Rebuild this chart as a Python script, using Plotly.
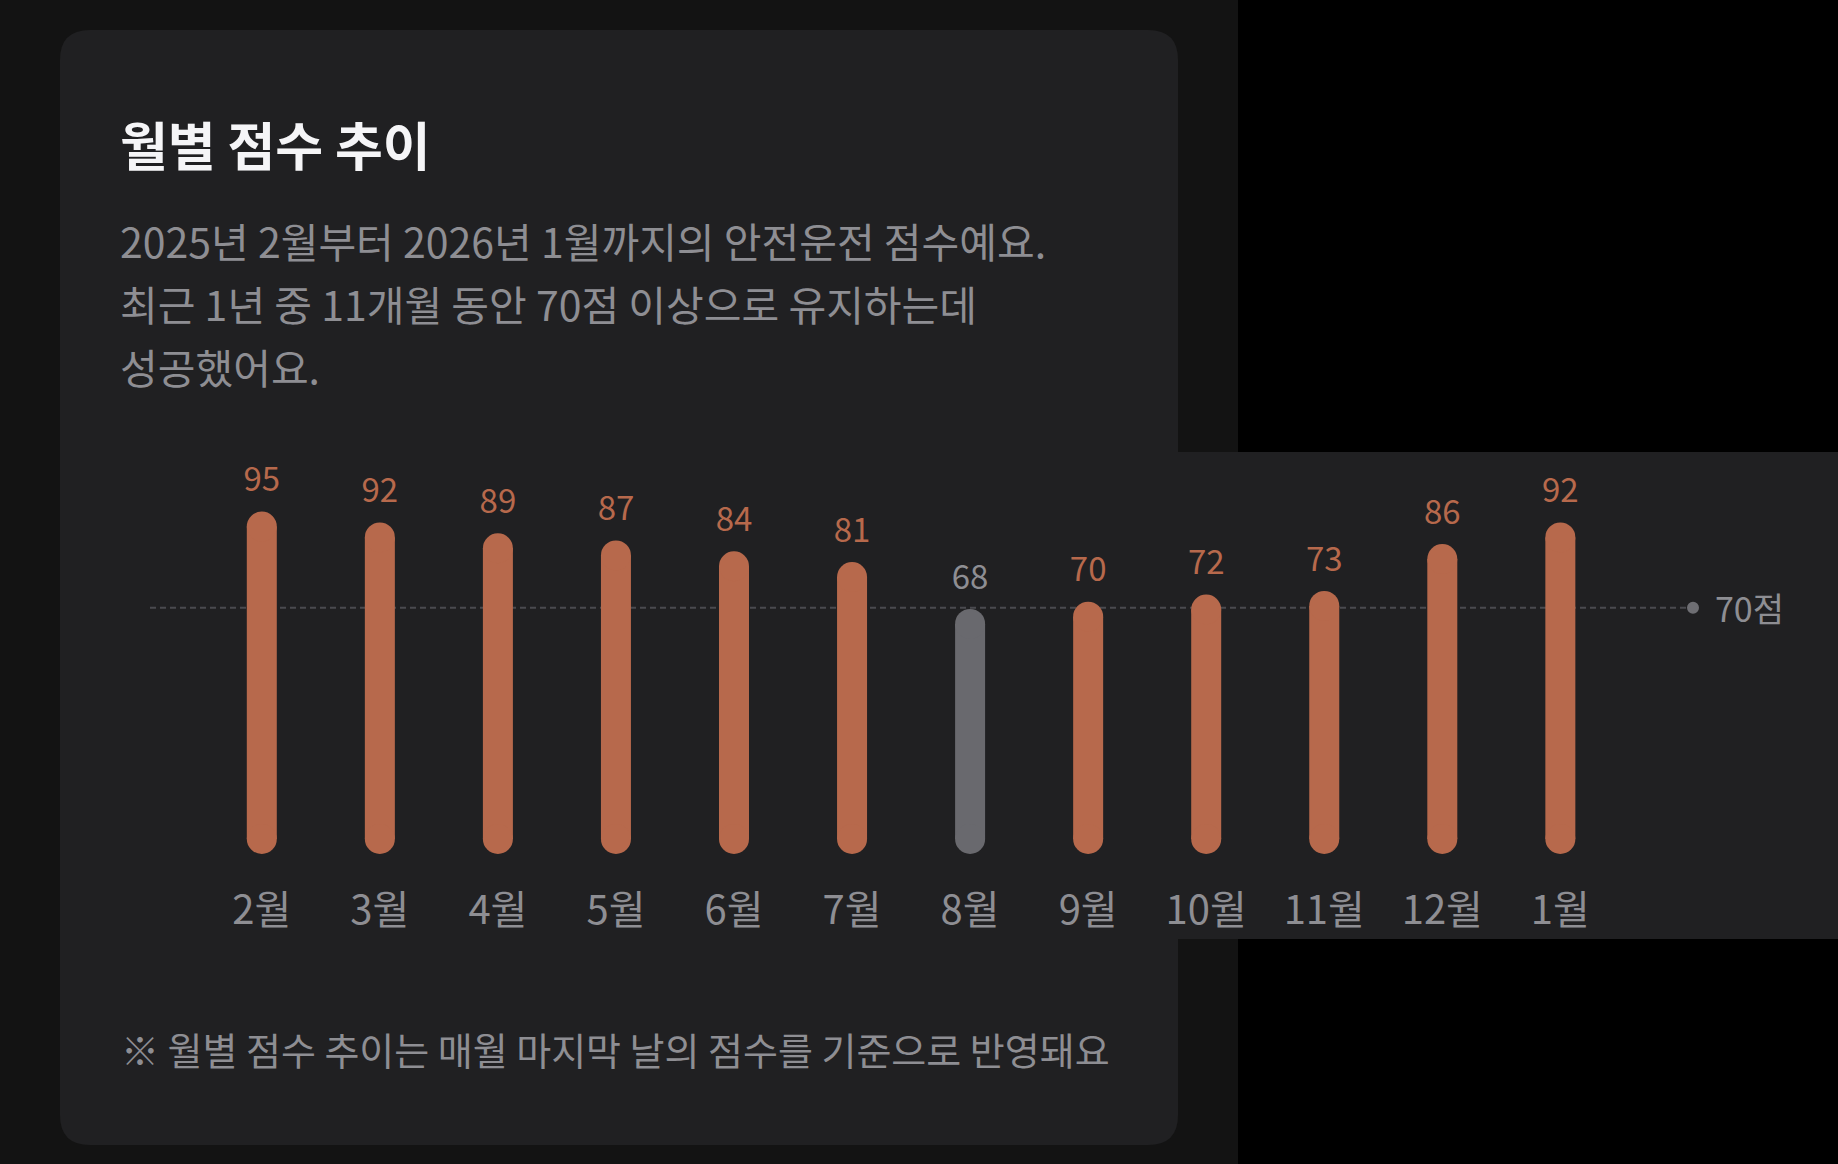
import plotly.graph_objects as go

# ---- data ----
months = ["2월", "3월", "4월", "5월", "6월", "7월", "8월", "9월", "10월", "11월", "12월", "1월"]
scores = [95, 92, 89, 87, 84, 81, 68, 70, 72, 73, 86, 92]
threshold = 70
title_text = "월별 점수 추이"
subtitle_lines = [
    "2025년 2월부터 2026년 1월까지의 안전운전 점수예요.",
    "최근 1년 중 11개월 동안 70점 이상으로 유지하는데",
    "성공했어요.",
]
footer_text = "※ 월별 점수 추이는 매월 마지막 날의 점수를 기준으로 반영돼요"
threshold_label = "70점"

# ---- styling ----
W, H = 1838, 1164
FONT = "Noto Sans CJK KR"
ORANGE = "#b7694c"
GRAY_BAR = "#69696e"
GRAY_TEXT = "#8e8e93"
CARD = "#202022"
OUTER = "#131313"

def fx(px):
    return px / W

def fy(py):
    return 1 - py / H

PX_PER_UNIT = 3.604
ZERO_PX = 854.0
AXIS_PX = 883.0
y_top = ZERO_PX / PX_PER_UNIT
y_bot = (ZERO_PX - AXIS_PX) / PX_PER_UNIT

X0_PX, STEP_PX = 261.8, 118.05
x_lo = -X0_PX / STEP_PX
x_hi = (W - X0_PX) / STEP_PX

BAR_PX = 30
CAP = (BAR_PX / 2) / PX_PER_UNIT
LABEL_GAP = 28.5 / PX_PER_UNIT
GUIDE_SHIFT = -6  # px offset of the guide line below the threshold value

fig = go.Figure()


def pill_trace(mask, color):
    xs, ys = [], []
    for m, s, keep in zip(months, scores, mask):
        if keep:
            xs += [m, m, None]
            ys += [CAP, s - CAP, None]
    return go.Scatter(
        x=xs, y=ys, mode="lines+markers", connectgaps=False,
        line=dict(color=color, width=BAR_PX),
        marker=dict(color=color, size=BAR_PX, line=dict(width=0)),
        hoverinfo="skip", showlegend=False,
    )


fig.add_trace(pill_trace([s >= threshold for s in scores], ORANGE))
fig.add_trace(pill_trace([s < threshold for s in scores], GRAY_BAR))

label_colors = [ORANGE if s >= threshold else GRAY_TEXT for s in scores]
fig.add_trace(go.Scatter(
    x=months, y=[s + LABEL_GAP for s in scores], mode="text",
    text=[str(s) for s in scores], textposition="middle center",
    textfont=dict(family=FONT, size=33, color=label_colors),
    hoverinfo="skip", showlegend=False,
))

shapes = [
    dict(type="rect", xref="paper", yref="paper", x0=0, x1=fx(1238), y0=0, y1=1,
         fillcolor=OUTER, line=dict(width=0), layer="below"),
]
r = 30
L, R, T, B = 60, 1178, 30, 1145
path = (
    f"M {fx(L + r)} {fy(T)} L {fx(R - r)} {fy(T)} Q {fx(R)} {fy(T)} {fx(R)} {fy(T + r)} "
    f"L {fx(R)} {fy(B - r)} Q {fx(R)} {fy(B)} {fx(R - r)} {fy(B)} "
    f"L {fx(L + r)} {fy(B)} Q {fx(L)} {fy(B)} {fx(L)} {fy(B - r)} "
    f"L {fx(L)} {fy(T + r)} Q {fx(L)} {fy(T)} {fx(L + r)} {fy(T)} Z"
)
shapes.append(dict(type="path", xref="paper", yref="paper", path=path,
                   fillcolor=CARD, line=dict(width=0), layer="below"))
shapes.append(dict(type="rect", xref="paper", yref="paper", x0=fx(1178), x1=1,
                   y0=fy(939), y1=fy(452), fillcolor=CARD, line=dict(width=0), layer="below"))
shapes.append(dict(type="line", xref="paper", yref="y", ysizemode="pixel", yanchor=threshold,
                   x0=fx(150), x1=fx(1688), y0=GUIDE_SHIFT, y1=GUIDE_SHIFT,
                   line=dict(color="#4a4a4f", width=2, dash="6px,4px"), layer="below"))
shapes.append(dict(type="circle", xref="paper", yref="y", xsizemode="pixel", ysizemode="pixel",
                   xanchor=fx(1693), yanchor=threshold, x0=-6, x1=6,
                   y0=GUIDE_SHIFT - 6, y1=GUIDE_SHIFT + 6,
                   fillcolor="#6e6e73", line=dict(width=0), layer="above"))

annotations = [
    dict(text=title_text, xref="paper", yref="paper", x=fx(118), y=fy(143),
         xanchor="left", yanchor="middle", showarrow=False,
         font=dict(family=FONT, size=52, color="#f5f5f7", weight="bold")),
    dict(text=threshold_label, xref="paper", yref="y", x=fx(1713), y=threshold,
         yshift=GUIDE_SHIFT, xanchor="left", yanchor="middle", showarrow=False,
         font=dict(family=FONT, size=34, color=GRAY_TEXT)),
    dict(text=footer_text, xref="paper", yref="paper", x=fx(119), y=fy(1048),
         xanchor="left", yanchor="middle", showarrow=False,
         font=dict(family=FONT, size=38, color=GRAY_TEXT)),
]
for i, line in enumerate(subtitle_lines):
    annotations.append(dict(text=line, xref="paper", yref="paper", x=fx(118), y=fy(240 + 63 * i),
                            xanchor="left", yanchor="middle", showarrow=False,
                            font=dict(family=FONT, size=41, color=GRAY_TEXT)))

fig.update_layout(
    width=W, height=H,
    margin=dict(l=0, r=0, t=0, b=0),
    paper_bgcolor="#000000", plot_bgcolor="rgba(0,0,0,0)",
    shapes=shapes, annotations=annotations,
    xaxis=dict(type="category", categoryorder="array", categoryarray=months,
               range=[x_lo, x_hi], domain=[0, 1],
               showgrid=False, zeroline=False, showline=False, ticks="",
               tickfont=dict(family=FONT, size=40, color=GRAY_TEXT), fixedrange=True),
    yaxis=dict(range=[y_bot, y_top], domain=[fy(AXIS_PX), 1],
               showgrid=False, zeroline=False, showline=False, showticklabels=False,
               ticks="", fixedrange=True),
    font=dict(family=FONT),
)

fig.write_html("out.html", config={"displayModeBar": False},
               post_script="document.body.style.margin='0';")
